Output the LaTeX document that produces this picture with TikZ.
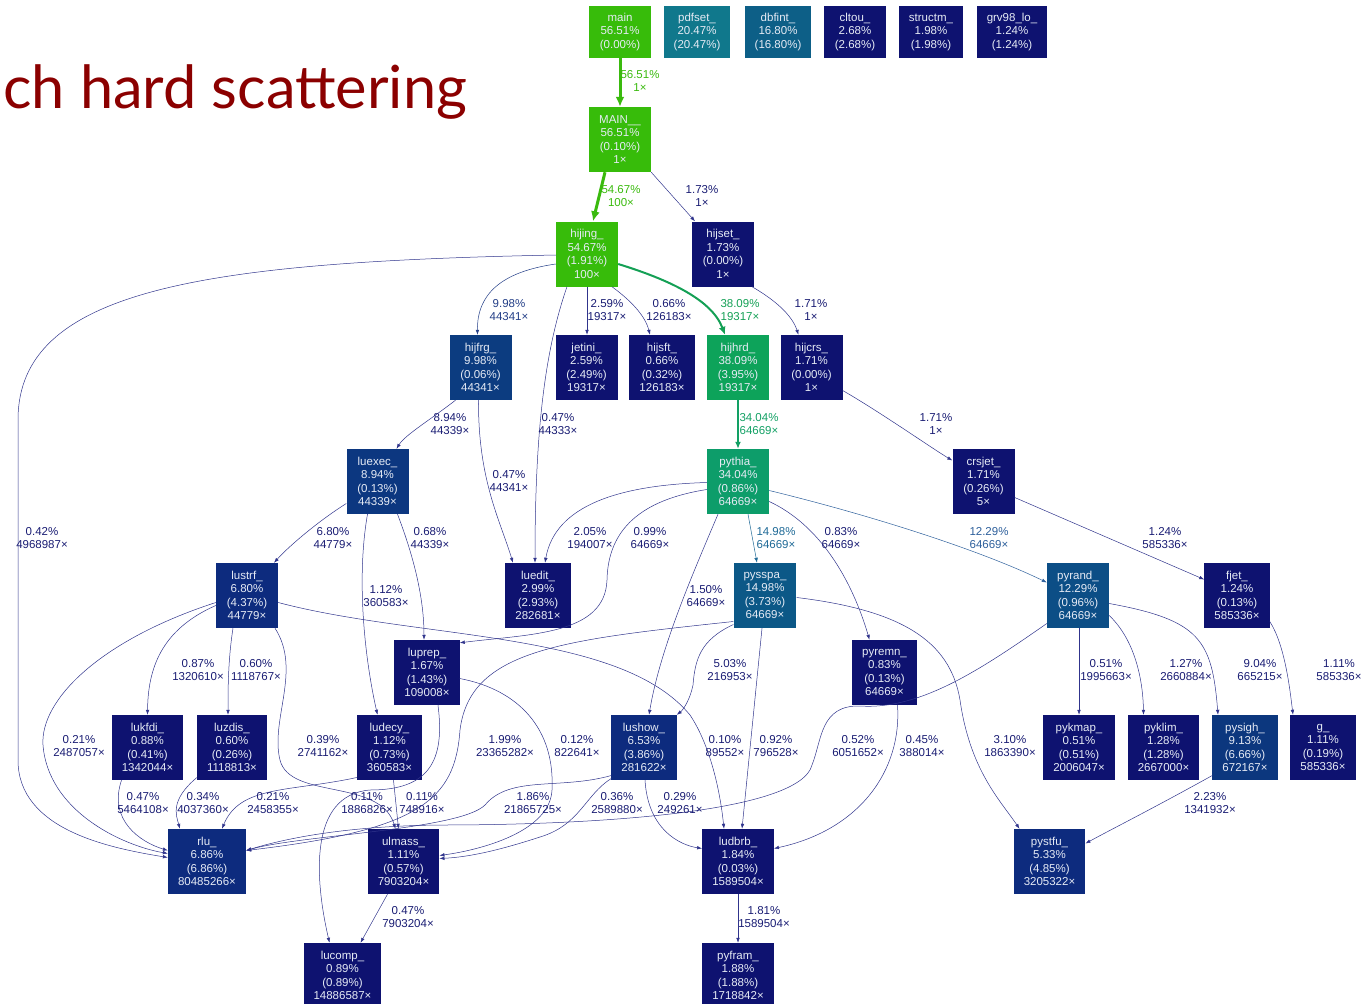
\documentclass[tikz,border=0pt]{standalone}
\usepackage{fontspec}
\setmainfont{Liberation Sans}
\newfontfamily\titlefont{Lato}
\usetikzlibrary{arrows.meta}
\definecolor{navyfn}{RGB}{14,18,112}
\definecolor{deepfn}{RGB}{13,43,126}
\definecolor{greenfn}{RGB}{55,188,10}
\definecolor{pdfsetfn}{RGB}{16,120,140}
\definecolor{dbfintfn}{RGB}{13,95,135}
\definecolor{hijhrdfn}{RGB}{13,163,90}
\definecolor{pythiafn}{RGB}{13,157,106}
\definecolor{pysspafn}{RGB}{12,88,135}
\definecolor{pyrandfn}{RGB}{12,78,134}
\definecolor{hijfrgfn}{RGB}{12,60,128}
\definecolor{luexecfn}{RGB}{12,55,128}
\definecolor{pysighfn}{RGB}{12,55,126}
\definecolor{fntext}{RGB}{230,235,245}
\definecolor{edgenavy}{RGB}{48,52,140}
\definecolor{lblnavy}{RGB}{25,28,115}
\definecolor{greenedge}{RGB}{58,186,14}
\definecolor{hrdedge}{RGB}{20,160,85}
\definecolor{pythedge}{RGB}{18,160,100}
\definecolor{sspaedge}{RGB}{30,105,150}
\definecolor{randedge}{RGB}{45,95,155}
\definecolor{frgedge}{RGB}{35,62,135}
\definecolor{titlered}{RGB}{139,0,0}
\tikzstyle{Call} = [
%thin call edge:
draw=edgenavy, line width=0.5pt, -{Latex[length=5pt,width=3.6pt]}
]

\begin{document}
\begin{tikzpicture}[x=1pt, y=-1pt,
    fn/.style = {rectangle, fill=#1, text=fntext, align=center, inner xsep=10pt, inner ysep=0pt,
                 minimum width=62pt, minimum height=65pt, font=\fontsize{11.5}{13.5}\selectfont},
    fn/.default = navyfn,
    toprow/.style = {minimum height=52pt},
    lbl/.style = {align=center, text=#1, inner sep=0pt, font=\fontsize{11.5}{13.5}\selectfont},
    lbl/.default = lblnavy,
  ]
  \useasboundingbox (0,0) rectangle (1371,1004);

  \node[anchor=base west, inner sep=0pt, text=titlered, font=\titlefont\fontsize{59.5}{70}\selectfont] (title) at (3,108) {ch hard scattering};

  % top row
  \node[fn=greenfn, toprow] (main) at (620,32) {main\\56.51\%\\(0.00\%)};
  \node[fn=pdfsetfn, toprow] (pdfset) at (697,32) {pdfset\_\\20.47\%\\(20.47\%)};
  \node[fn=dbfintfn, toprow] (dbfint) at (778,32) {dbfint\_\\16.80\%\\(16.80\%)};
  \node[fn, toprow] (cltou) at (855,32) {cltou\_\\2.68\%\\(2.68\%)};
  \node[fn, toprow] (structm) at (931,32) {structm\_\\1.98\%\\(1.98\%)};
  \node[fn, toprow] (grvlo) at (1012,32) {grv98\_lo\_\\1.24\%\\(1.24\%)};

  \node[fn=greenfn] (MAIN) at (620,139.5) {MAIN\_\_\\56.51\%\\(0.10\%)\\1×};
  \node[fn=greenfn] (hijing) at (587,254) {hijing\_\\54.67\%\\(1.91\%)\\100×};
  \node[fn] (hijset) at (723,254) {hijset\_\\1.73\%\\(0.00\%)\\1×};

  \node[fn=hijfrgfn] (hijfrg) at (480.5,367.5) {hijfrg\_\\9.98\%\\(0.06\%)\\44341×};
  \node[fn] (jetini) at (586.5,367.5) {jetini\_\\2.59\%\\(2.49\%)\\19317×};
  \node[fn] (hijsft) at (662,367.5) {hijsft\_\\0.66\%\\(0.32\%)\\126183×};
  \node[fn=hijhrdfn] (hijhrd) at (738,367.5) {hijhrd\_\\38.09\%\\(3.95\%)\\19317×};
  \node[fn] (hijcrs) at (811.5,367.5) {hijcrs\_\\1.71\%\\(0.00\%)\\1×};

  \node[fn=luexecfn] (luexec) at (377.5,481.5) {luexec\_\\8.94\%\\(0.13\%)\\44339×};
  \node[fn=pythiafn] (pythia) at (738,481.5) {pythia\_\\34.04\%\\(0.86\%)\\64669×};
  \node[fn] (crsjet) at (983.5,481.5) {crsjet\_\\1.71\%\\(0.26\%)\\5×};

  \node[fn=deepfn] (lustrf) at (247,595.5) {lustrf\_\\6.80\%\\(4.37\%)\\44779×};
  \node[fn] (luedit) at (538,595.5) {luedit\_\\2.99\%\\(2.93\%)\\282681×};
  \node[fn=pysspafn] (pysspa) at (765,595.5) {pysspa\_\\14.98\%\\(3.73\%)\\64669×};
  \node[fn=pyrandfn] (pyrand) at (1078,595.5) {pyrand\_\\12.29\%\\(0.96\%)\\64669×};
  \node[fn] (fjet) at (1237,595.5) {fjet\_\\1.24\%\\(0.13\%)\\585336×};

  \node[fn] (luprep) at (427,672.5) {luprep\_\\1.67\%\\(1.43\%)\\109008×};
  \node[fn] (pyremn) at (884.5,672.5) {pyremn\_\\0.83\%\\(0.13\%)\\64669×};

  \node[fn] (lukfdi) at (147.5,747.5) {lukfdi\_\\0.88\%\\(0.41\%)\\1342044×};
  \node[fn] (luzdis) at (232,747.5) {luzdis\_\\0.60\%\\(0.26\%)\\1118813×};
  \node[fn] (ludecy) at (389.5,747.5) {ludecy\_\\1.12\%\\(0.73\%)\\360583×};
  \node[fn=deepfn] (lushow) at (644,747.5) {lushow\_\\6.53\%\\(3.86\%)\\281622×};
  \node[fn] (pykmap) at (1079,747.5) {pykmap\_\\0.51\%\\(0.51\%)\\2006047×};
  \node[fn] (pyklim) at (1163.5,747.5) {pyklim\_\\1.28\%\\(1.28\%)\\2667000×};
  \node[fn=pysighfn] (pysigh) at (1245,747.5) {pysigh\_\\9.13\%\\(6.66\%)\\672167×};
  \node[fn] (g) at (1323,747.5) {g\_\\1.11\%\\(0.19\%)\\585336×};

  \node[fn=deepfn] (rlu) at (207,861.5) {rlu\_\\6.86\%\\(6.86\%)\\80485266×};
  \node[fn] (ulmass) at (403.5,861.5) {ulmass\_\\1.11\%\\(0.57\%)\\7903204×};
  \node[fn] (ludbrb) at (738,861.5) {ludbrb\_\\1.84\%\\(0.03\%)\\1589504×};
  \node[fn=deepfn] (pystfu) at (1049.5,861.5) {pystfu\_\\5.33\%\\(4.85\%)\\3205322×};

  \node[fn] (lucomp) at (342.5,975.5) {lucomp\_\\0.89\%\\(0.89\%)\\14886587×};
  \node[fn] (pyfram) at (738,975.5) {pyfram\_\\1.88\%\\(1.88\%)\\1718842×};

  % calls
  \draw[Call, draw=greenedge, line width=3pt, -{Latex[length=10pt,width=9pt]}] (main) -- (MAIN)
    node[lbl=greenedge] at (640,81) {56.51\%\\1×};
  \draw[Call, draw=greenedge, line width=3pt, -{Latex[length=10pt,width=9pt]}] ([xshift=-15pt]MAIN.south) -- ([xshift=6pt]hijing.north)
    node[lbl=greenedge] at (621,196) {54.67\%\\100×};
  \draw[Call] (MAIN.south east) -- ([xshift=-28pt]hijset.north)
    node[lbl] at (702,196) {1.73\%\\1×};

  \draw[Call, draw=frgedge] ([yshift=-10pt]hijing.west) .. controls (500,272) and (477,295) .. ([xshift=-3pt]hijfrg.north)
    node[lbl=frgedge] at (509,310) {9.98\%\\44341×};
  \draw[Call] (hijing.south) -- ([xshift=0.5pt]jetini.north)
    node[lbl] at (607,310) {2.59\%\\19317×};
  \draw[Call] ([xshift=25pt]hijing.south) .. controls (630,300) and (645,315) .. ([xshift=-12pt]hijsft.north)
    node[lbl] at (669,310) {0.66\%\\126183×};
  \draw[Call, draw=hrdedge, line width=2pt, -{Latex[length=8pt,width=7pt]}] ([yshift=-10pt]hijing.east) .. controls (670,280) and (712,300) .. ([xshift=-13pt]hijhrd.north)
    node[lbl=hrdedge] at (740,310) {38.09\%\\19317×};
  \draw[Call] ([xshift=29pt]hijset.south) .. controls (775,300) and (792,315) .. ([xshift=-13pt]hijcrs.north)
    node[lbl] at (811,310) {1.71\%\\1×};

  \draw[Call] ([yshift=-1pt]hijing.west) .. controls (200,262) and (18,290) .. (18,420) -- (18,760)
    .. controls (18,830) and (110,848) .. ([yshift=4pt]rlu.west)
    node[lbl] at (42,538) {0.42\%\\4968987×};
  \draw[Call] ([xshift=-20pt]hijing.south) .. controls (545,350) and (535,430) .. ([xshift=-3pt]luedit.north)
    node[lbl] at (558,424) {0.47\%\\44333×};
  \draw[Call] ([xshift=-25pt]hijfrg.south) .. controls (430,420) and (405,435) .. ([xshift=19pt]luexec.north)
    node[lbl] at (450,424) {8.94\%\\44339×};
  \draw[Call] ([xshift=-2pt]hijfrg.south) .. controls (478,480) and (500,520) .. ([xshift=-25pt]luedit.north)
    node[lbl] at (509,481) {0.47\%\\44341×};
  \draw[Call, draw=pythedge, line width=1.5pt, -{Latex[length=7pt,width=6pt]}] (hijhrd) -- (pythia)
    node[lbl=pythedge] at (759,424) {34.04\%\\64669×};
  \draw[Call] ([yshift=-23pt]hijcrs.east) .. controls (880,412) and (930,447) .. ([yshift=21pt]crsjet.west)
    node[lbl] at (936,424) {1.71\%\\1×};

  \draw[Call] ([yshift=-22pt]luexec.west) .. controls (320,520) and (290,545) .. ([xshift=27pt]lustrf.north)
    node[lbl] at (333,538) {6.80\%\\44779×};
  \draw[Call] ([xshift=-10pt]luexec.south) .. controls (356,580) and (365,660) .. ([xshift=-12pt]ludecy.north)
    node[lbl] at (386,596) {1.12\%\\360583×};
  \draw[Call] ([xshift=20pt]luexec.south) .. controls (415,560) and (424,600) .. ([xshift=-3pt]luprep.north)
    node[lbl] at (430,538) {0.68\%\\44339×};

  \draw[Call] ([yshift=-1pt]pythia.west) .. controls (620,485) and (555,505) .. ([xshift=7pt]luedit.north)
    node[lbl] at (590,538) {2.05\%\\194007×};
  \draw[Call] ([yshift=-8pt]pythia.west) .. controls (640,500) and (608,530) .. (607,580)
    .. controls (605,635) and (530,634) .. ([yshift=-3pt]luprep.north east)
    node[lbl] at (650,538) {0.99\%\\64669×};
  \draw[Call, draw=sspaedge] ([xshift=10pt]pythia.south) -- ([xshift=-8pt]pysspa.north)
    node[lbl=sspaedge] at (776,538) {14.98\%\\64669×};
  \draw[Call] ([yshift=-20pt]pythia.east) .. controls (820,525) and (852,580) .. ([xshift=-15pt]pyremn.north)
    node[lbl] at (841,538) {0.83\%\\64669×};
  \draw[Call, draw=randedge] ([yshift=-9pt]pythia.east) .. controls (870,515) and (980,550) .. ([yshift=13pt]pyrand.west)
    node[lbl=randedge] at (989,538) {12.29\%\\64669×};
  \draw[Call] ([xshift=-20pt]pythia.south) .. controls (690,580) and (660,650) .. ([xshift=5pt]lushow.north)
    node[lbl] at (706,596) {1.50\%\\64669×};
  \draw[Call] ([yshift=-16pt]crsjet.east) -- ([yshift=16pt]fjet.west)
    node[lbl] at (1165,538) {1.24\%\\585336×};

  \draw[Call] ([yshift=-10pt]lustrf.west) .. controls (160,630) and (148,670) .. (lukfdi.north)
    node[lbl] at (198,670) {0.87\%\\1320610×};
  \draw[Call] ([xshift=-14pt]lustrf.south) .. controls (228,660) and (228,690) .. ([xshift=-4pt]luzdis.north)
    node[lbl] at (256,670) {0.60\%\\1118767×};
  \draw[Call] ([yshift=-7pt]lustrf.west) .. controls (100,640) and (40,700) .. (43,745)
    .. controls (48,810) and (120,845) .. ([yshift=8pt]rlu.west)
    node[lbl] at (79,746) {0.21\%\\2487057×};
  \draw[Call] ([xshift=28pt]lustrf.south) .. controls (302,670) and (270,720) .. (280,760)
    .. controls (290,800) and (380,778) .. ([xshift=-8pt]ulmass.north)
    node[lbl] at (323,746) {0.39\%\\2741162×};
  \draw[Call] ([yshift=-7pt]lustrf.east) .. controls (420,640) and (620,630) .. (690,715)
    .. controls (710,745) and (720,790) .. ([xshift=-14pt]ludbrb.north)
    node[lbl] at (725,746) {0.10\%\\89552×};

  \draw[Call] ([yshift=-6pt]luprep.east) .. controls (520,690) and (555,730) .. (552,790)
    .. controls (550,832) and (480,850) .. ([yshift=6pt]ulmass.east)
    node[lbl] at (577,746) {0.12\%\\822641×};
  \draw[Call] ([xshift=11pt]luprep.south) .. controls (445,760) and (430,790) .. (370,790)
    .. controls (308,795) and (315,880) .. ([xshift=-13pt]lucomp.north)
    node[lbl] at (367,803) {0.11\%\\1886826×};
  \draw[Call] ([yshift=-30pt]ludecy.west) .. controls (290,792) and (240,785) .. ([xshift=15pt]rlu.north)
    node[lbl] at (273,803) {0.21\%\\2458355×};
  \draw[Call] ([xshift=4pt]ludecy.south) -- ([xshift=-5pt]ulmass.north)
    node[lbl] at (422,803) {0.11\%\\748916×};
  \draw[Call] ([xshift=-26pt]lukfdi.south) .. controls (108,820) and (140,842) .. ([yshift=11pt]rlu.west)
    node[lbl] at (143,803) {0.47\%\\5464108×};
  \draw[Call] ([yshift=-30pt]luzdis.west) .. controls (170,800) and (176,815) .. ([xshift=-27pt]rlu.north)
    node[lbl] at (203,803) {0.34\%\\4037360×};

  \draw[Call] ([yshift=-26pt]pysspa.west) .. controls (560,640) and (470,650) .. (460,730)
    .. controls (455,800) and (420,830) .. ([yshift=11pt]rlu.east)
    node[lbl] at (505,746) {1.99\%\\23365282×};
  \draw[Call] ([yshift=-28pt]lushow.west) .. controls (560,790) and (510,775) .. (485,805)
    .. controls (460,830) and (300,835) .. ([yshift=11pt]rlu.east)
    node[lbl] at (533,803) {1.86\%\\21865725×};
  \draw[Call] ([yshift=-28pt]pyrand.west) .. controls (980,670) and (920,710) .. (860,706)
    .. controls (820,705) and (822,740) .. (812,765)
    .. controls (800,812) and (600,825) .. (440,825)
    .. controls (340,826) and (280,840) .. ([yshift=11pt]rlu.east)
    node[lbl] at (858,746) {0.52\%\\6051652×};
  \draw[Call] ([xshift=13pt]pyremn.south) .. controls (902,770) and (860,830) .. ([yshift=13pt]ludbrb.east)
    node[lbl] at (922,746) {0.45\%\\388014×};

  \draw[Call] ([yshift=-29pt]pysspa.west) .. controls (700,640) and (695,660) .. (693,685)
    .. controls (690,700) and (683,710) .. (lushow.north east)
    node[lbl] at (730,670) {5.03\%\\216953×};
  \draw[Call] ([xshift=-3pt]pysspa.south) -- ([xshift=4pt]ludbrb.north)
    node[lbl] at (776,746) {0.92\%\\796528×};
  \draw[Call] ([yshift=-2pt]pysspa.east) .. controls (900,610) and (950,640) .. (960,700)
    .. controls (970,770) and (1000,800) .. ([xshift=-30pt]pystfu.north)
    node[lbl] at (1010,746) {3.10\%\\1863390×};

  \draw[Call] ([yshift=-31pt]lushow.west) .. controls (585,795) and (580,825) .. (540,837)
    .. controls (500,850) and (470,857) .. ([yshift=3pt]ulmass.east)
    node[lbl] at (617,803) {0.36\%\\2589880×};
  \draw[Call] ([xshift=1pt]lushow.south) .. controls (648,830) and (680,845) .. ([yshift=13pt]ludbrb.west)
    node[lbl] at (680,803) {0.29\%\\249261×};

  \draw[Call] ([xshift=-16pt]ulmass.south) -- ([xshift=18pt]lucomp.north)
    node[lbl] at (408,917) {0.47\%\\7903204×};
  \draw[Call] (ludbrb) -- (pyfram)
    node[lbl] at (764,917) {1.81\%\\1589504×};

  \draw[Call] ([xshift=1pt]pyrand.south) -- (pykmap.north)
    node[lbl] at (1106,670) {0.51\%\\1995663×};
  \draw[Call] ([yshift=-20pt]pyrand.east) .. controls (1135,640) and (1143,680) .. ([xshift=-20pt]pyklim.north)
    node[lbl] at (1186,670) {1.27\%\\2660884×};
  \draw[Call] ([yshift=-8pt]pyrand.east) .. controls (1200,620) and (1212,640) .. ([xshift=-27pt]pysigh.north)
    node[lbl] at (1260,670) {9.04\%\\665215×};
  \draw[Call] ([yshift=-26pt]fjet.east) .. controls (1285,645) and (1290,690) .. ([xshift=-30pt]g.north)
    node[lbl] at (1339,670) {1.11\%\\585336×};
  \draw[Call] ([yshift=-28pt]pysigh.west) .. controls (1150,810) and (1110,830) .. ([yshift=18pt]pystfu.east)
    node[lbl] at (1210,803) {2.23\%\\1341932×};
\end{tikzpicture}
\end{document}
